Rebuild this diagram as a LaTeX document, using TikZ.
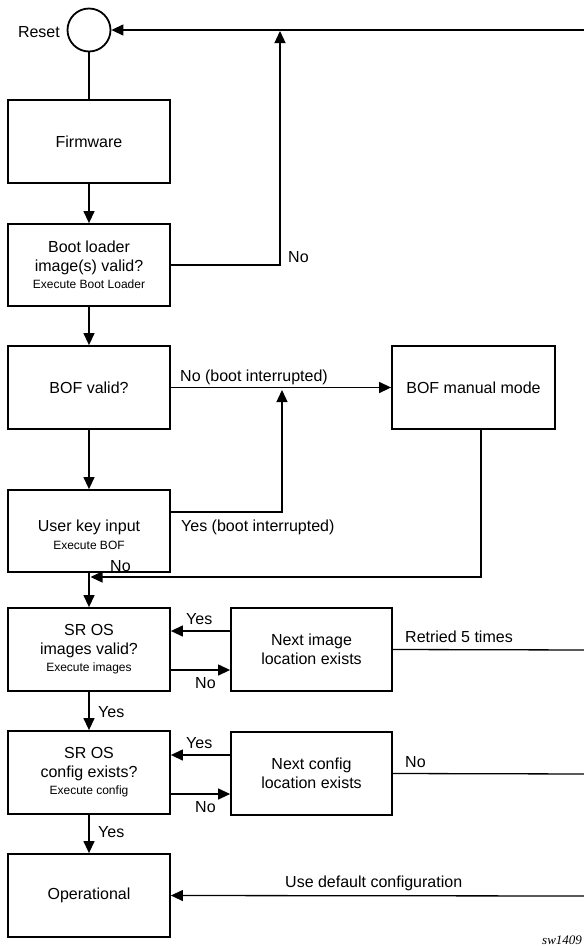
\documentclass[tikz,border=0pt]{standalone}
\usepackage{fontspec}
\setmainfont{Liberation Sans}
\newfontfamily\tagfont{Liberation Serif}
\usetikzlibrary{arrows.meta}
\begin{document}
\begin{tikzpicture}[x=1pt,y=-1pt,
  box/.style={draw,line width=1.8pt,inner sep=0pt,align=center,
    font=\fontsize{16}{19}\selectfont},
  sbox/.style={box,minimum width=162pt,minimum height=83pt},
  conn/.style={line width=1.3pt},
  arr/.style={conn,-{Triangle[length=12pt,width=11pt]}},
  lbl/.style={inner sep=0pt,anchor=base west,font=\fontsize{16}{19}\selectfont}]
\useasboundingbox (0,0) rectangle (584,946);
% nodes
\node[draw,line width=1.8pt,circle,minimum size=43pt,inner sep=0pt] (rst) at (89,30) {};
\node[inner sep=0pt,anchor=base east,font=\fontsize{16}{19}\selectfont] (rstl) at (60,37) {Reset};
\node[sbox] (fw) at (89,141.5) {Firmware};
\node[sbox,minimum height=82pt] (bl) at (89,265) {Boot loader\\image(s) valid?\\[-2pt]{\fontsize{12}{14}\selectfont Execute Boot Loader}};
\node[sbox] (bof) at (89,387.5) {BOF valid?};
\node[sbox,minimum height=82pt] (uk) at (89,531) {};
\node[inner sep=0pt,align=center,font=\fontsize{16}{19}\selectfont] (ukt) at (89,535) {User key input\\[-1pt]{\fontsize{12}{14}\selectfont Execute BOF}};
\node[sbox,minimum width=163pt] (man) at (473.5,387.5) {BOF manual mode};
\node[sbox] (img) at (89,649.5) {SR OS\\images valid?\\[-2pt]{\fontsize{12}{14}\selectfont Execute images}};
\node[sbox,minimum width=161pt] (nimg) at (311.5,649.5) {Next image\\location exists};
\node[sbox] (cfg) at (89,772.5) {SR OS\\config exists?\\[-2pt]{\fontsize{12}{14}\selectfont Execute config}};
\node[sbox,minimum width=161pt] (ncfg) at (311.5,773.5) {Next config\\location exists};
\node[sbox] (op) at (89,895.5) {Operational};
% coordinates
\coordinate (j1) at (280,31);
\coordinate (topR) at (592,30);
\coordinate (j2) at (282,390);
\coordinate (j3) at (90.5,577);
\coordinate (r1) at (592,650);
\coordinate (r2) at (592,774);
\coordinate (r3) at (592,896);
% connectors
\draw[arr] (topR) -- (rst.east);
\draw[conn] (rst.south) -- (fw.north);
\draw[arr] (fw.south) -- (bl.north);
\draw[arr] (bl.east) -| (j1);
\draw[arr] (bl.south) -- (bof.north);
\draw[arr] (bof.east) -- (man.west);
\draw[arr] (bof.south) -- (uk.north);
\draw[arr] ([yshift=19pt]uk.east) -| (j2);
\draw[arr] (uk.south) -- (img.north);
\draw[arr] ([xshift=7.5pt]man.south) |- (j3);
\draw[arr] ([yshift=18.5pt]nimg.west) -- ([yshift=18.5pt]img.east);
\draw[arr] ([yshift=-20.5pt]img.east) -- ([yshift=-20.5pt]nimg.west);
\draw[conn] (nimg.east) -- (r1);
\draw[arr] (img.south) -- (cfg.north);
\draw[arr] ([yshift=18.5pt]ncfg.west) -- ([yshift=17.5pt]cfg.east);
\draw[arr] ([yshift=-21.5pt]cfg.east) -- ([yshift=-20.5pt]ncfg.west);
\draw[conn] (ncfg.east) -- (r2);
\draw[arr] (cfg.south) -- (op.north);
\draw[arr] (r3) -- (op.east);
% labels
\node[lbl] (l1) at (288,262) {No};
\node[lbl] (l2) at (180,381) {No (boot interrupted)};
\node[lbl] (l3) at (181,531) {Yes (boot interrupted)};
\node[lbl] (l4) at (110,571) {No};
\node[lbl] (l5) at (186,624) {Yes};
\node[lbl] (l6) at (195,688) {No};
\node[lbl] (l7) at (405,642) {Retried 5 times};
\node[lbl] (l8) at (98,717) {Yes};
\node[lbl] (l9) at (186,748) {Yes};
\node[lbl] (l10) at (195,812) {No};
\node[lbl] (l11) at (405,767) {No};
\node[lbl] (l12) at (98,837) {Yes};
\node[lbl] (l13) at (285,887) {Use default configuration};
\node[inner sep=0pt,anchor=base west,font=\tagfont\itshape\fontsize{13}{15}\selectfont] (tag) at (542,944) {sw1409};
\end{tikzpicture}
\end{document}
